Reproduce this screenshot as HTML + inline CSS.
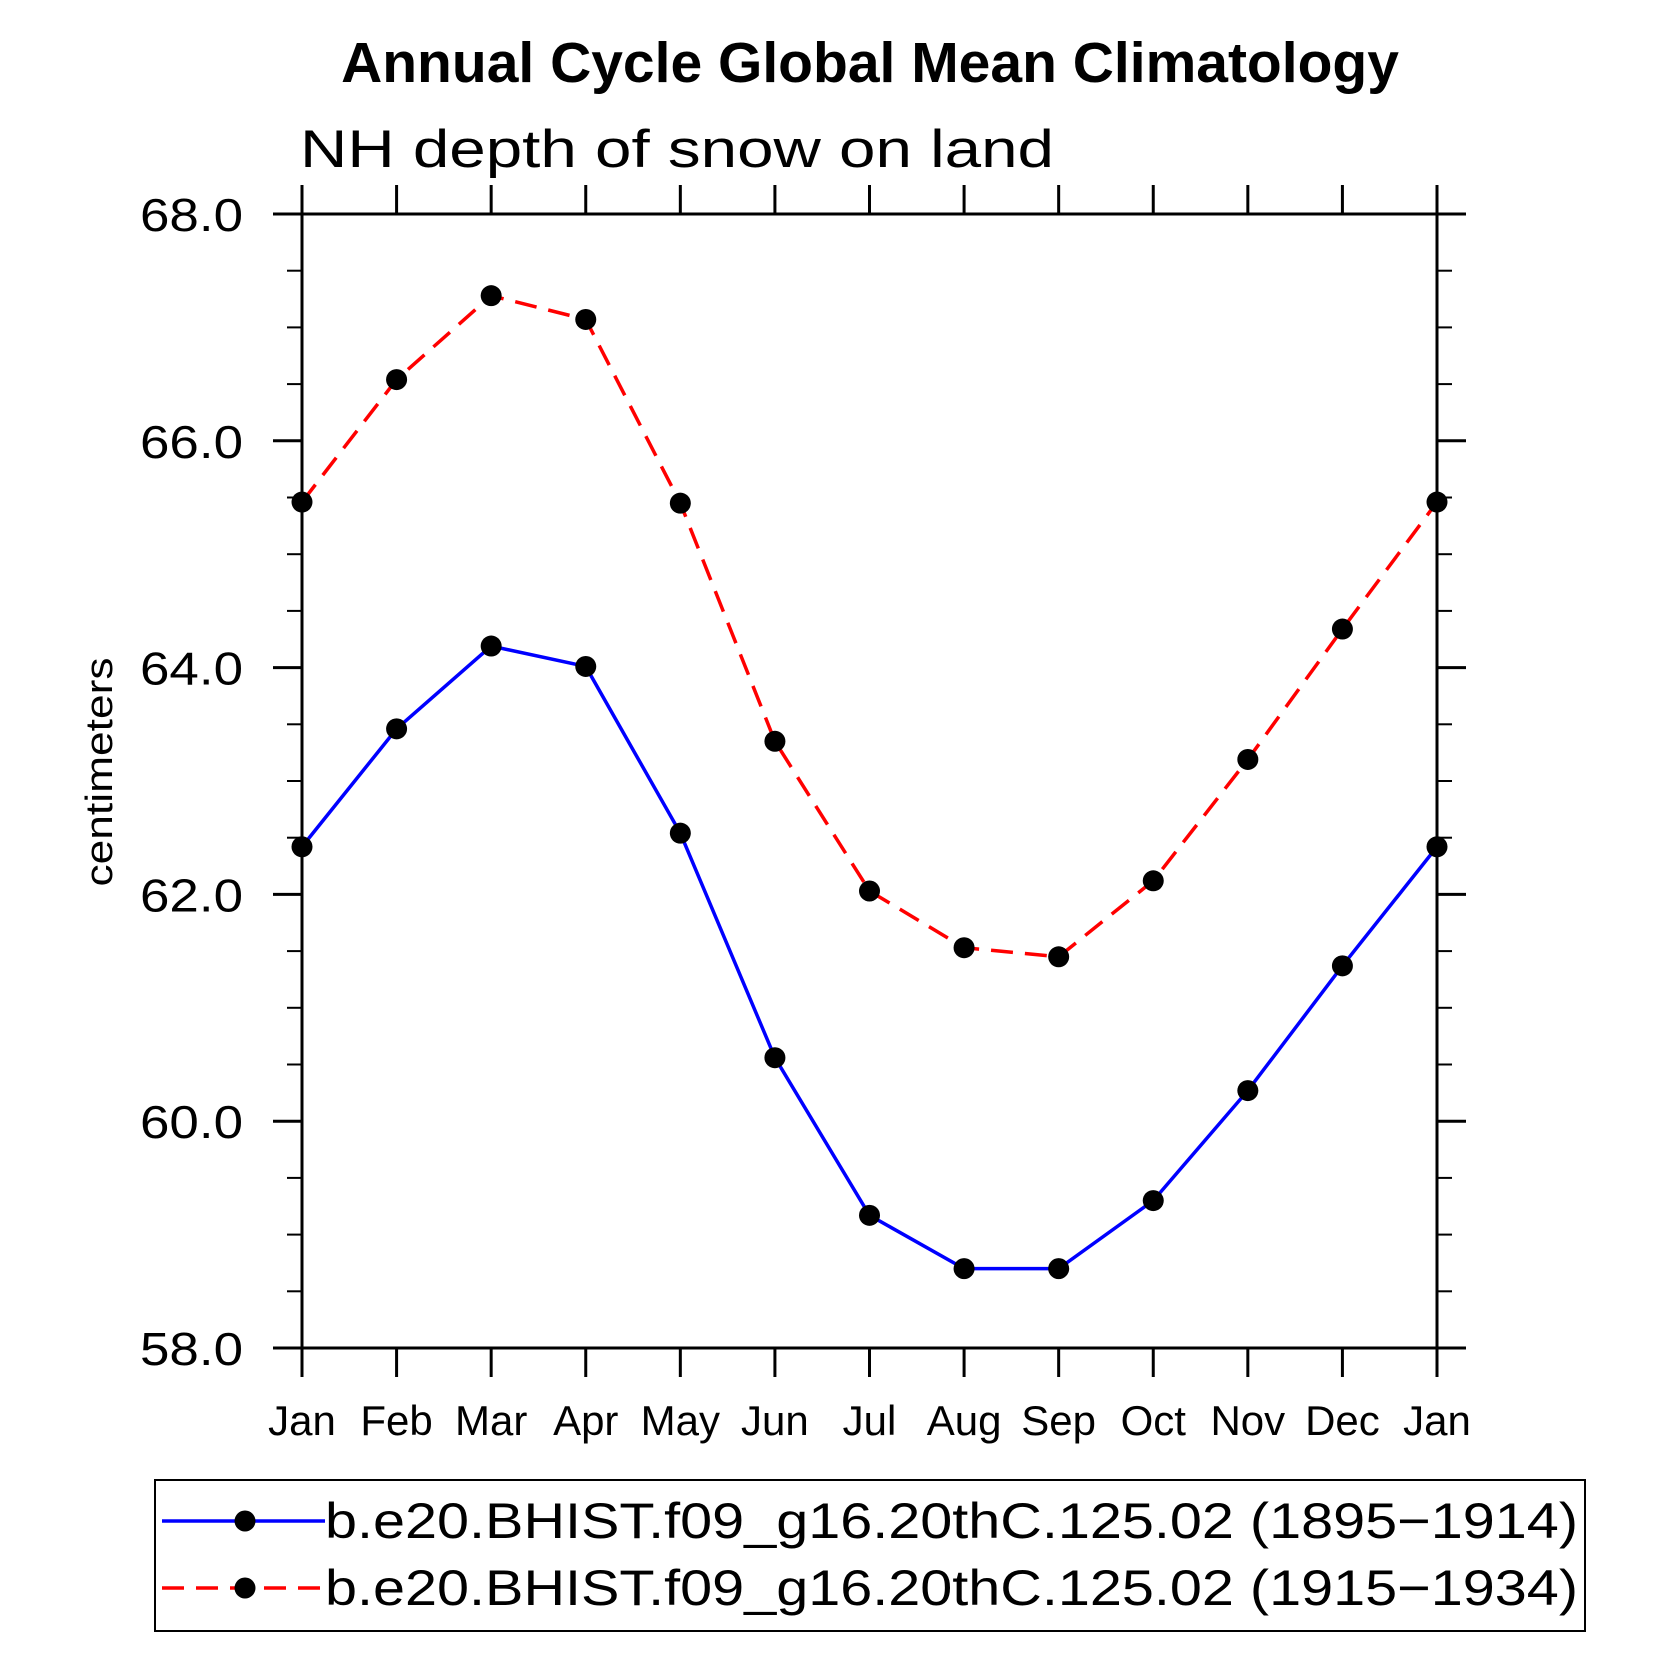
<!DOCTYPE html>
<html><head><meta charset="utf-8"><style>
html,body{margin:0;padding:0;background:#fff}
svg{display:block}
text{font-family:"Liberation Sans",sans-serif}
</style></head><body>
<svg id="chart" width="1669" height="1669" viewBox="0 0 1669 1669" xmlns="http://www.w3.org/2000/svg">
<text x="870" y="82" text-anchor="middle" font-size="57" font-weight="bold">Annual Cycle Global Mean Climatology</text>
<text x="300" y="167" font-size="53" font-weight="normal" textLength="754" lengthAdjust="spacingAndGlyphs">NH depth of snow on land</text>
<text transform="translate(112,772) rotate(-90)" text-anchor="middle" font-size="38" textLength="229" lengthAdjust="spacingAndGlyphs">centimeters</text>
<g id="axes"></g>
<g id="series"></g>
<g>
<rect x="155" y="1480" width="1430" height="151" fill="none" stroke="#000" stroke-width="2"/>
<g>
<line x1="162" y1="1521" x2="325" y2="1521" stroke="#0000ff" stroke-width="3.5"/>
<circle cx="245" cy="1521" r="10.5" fill="#000"/>
<text x="325" y="1538" font-size="50" textLength="1253" lengthAdjust="spacingAndGlyphs">b.e20.BHIST.f09_g16.20thC.125.02 (1895−1914)</text>
</g>
<g>
<line x1="162" y1="1588" x2="325" y2="1588" stroke="#ff0000" stroke-width="3.5" stroke-dasharray="22,12"/>
<circle cx="245" cy="1588" r="10.5" fill="#000"/>
<text x="325" y="1605" font-size="50" textLength="1253" lengthAdjust="spacingAndGlyphs">b.e20.BHIST.f09_g16.20thC.125.02 (1915−1934)</text>
</g>
</g>
</svg>
<script>
const months = ["Jan","Feb","Mar","Apr","May","Jun","Jul","Aug","Sep","Oct","Nov","Dec","Jan"];
const yTicks = [58,60,62,64,66,68];
const yTickLabels = ["58.0","60.0","62.0","64.0","66.0","68.0"];
const blueValues = [62.42,63.46,64.19,64.01,62.54,60.56,59.17,58.70,58.70,59.30,60.27,61.37,62.42];
const redValues = [65.46,66.54,67.28,67.07,65.45,63.35,62.03,61.53,61.45,62.12,63.19,64.34,65.46];

const NS="http://www.w3.org/2000/svg";
const L=302,R=1437,T=214,B=1348,yMin=58,yMax=68;
function xs(i){return L+(R-L)*i/(months.length-1);}
function ys(v){return B-(B-T)*(v-yMin)/(yMax-yMin);}
function mk(tag,attrs,parent){const e=document.createElementNS(NS,tag);for(const k in attrs)e.setAttribute(k,attrs[k]);parent.appendChild(e);return e;}
const ax=document.getElementById('axes');
const frame=mk('rect',{x:L,y:T,width:R-L,height:B-T,fill:'none',stroke:'#000','stroke-width':3},ax);


months.forEach((m,i)=>{
  const x=xs(i);
  const t1=mk('line',{x1:x,y1:B,x2:x,y2:B+29,stroke:'#000','stroke-width':3},ax);
  
  
  const t2=mk('line',{x1:x,y1:T,x2:x,y2:T-29,stroke:'#000','stroke-width':3},ax);
  
  
  const lb=mk('text',{x:x,y:1435,'text-anchor':'middle','font-size':42},ax);
  lb.textContent=m;
  
  
});
for(let v=yMin;v<=yMax+1e-9;v+=0.5){
  const major=Math.abs(v-Math.round(v/2)*2)<1e-9;
  const len=major?29:15,y=ys(v);
  const a=mk('line',{x1:L,y1:y,x2:L-len,y2:y,stroke:'#000','stroke-width':major?3:2},ax);
  
  
  const b=mk('line',{x1:R,y1:y,x2:R+len,y2:y,stroke:'#000','stroke-width':major?3:2},ax);
  
  
}
yTicks.forEach((v,i)=>{
  const t=mk('text',{x:243,y:ys(v)+17,'text-anchor':'end','font-size':46,textLength:103,lengthAdjust:'spacingAndGlyphs'},ax);
  t.textContent=yTickLabels[i];
  
  
});
const sg=document.getElementById('series');
function drawSeries(vals,color,dash,name){
  const g=mk('g',{},sg);
  
  
  const pts=vals.map((v,i)=>xs(i)+','+ys(v)).join(' ');
  const pl=mk('polyline',{points:pts,fill:'none',stroke:color,'stroke-width':3.5},g);
  if(dash)pl.setAttribute('stroke-dasharray',dash);
  
  
  vals.forEach((v,i)=>{
    const c=mk('circle',{cx:xs(i),cy:ys(v),r:10.5,fill:'#000'},g);
    
    
  });
}
drawSeries(blueValues,'#0000ff',null,'series-1895-1914');
drawSeries(redValues,'#ff0000','22,12','series-1915-1934');
</script>
</body></html>
